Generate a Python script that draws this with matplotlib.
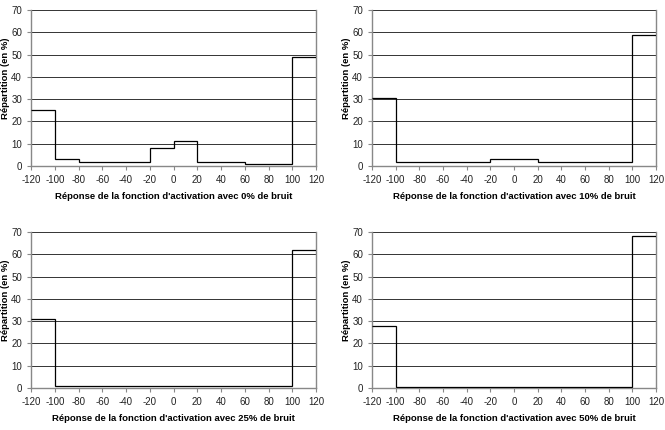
import numpy as np
import matplotlib.pyplot as plt

plt.rcParams['font.family'] = ['Liberation Sans', 'DejaVu Sans']
plt.rcParams['axes.unicode_minus'] = False

# bin edges of the activation response (width 20)
edges = np.arange(-120, 121, 20)

# distribution (%) per bin, one list per noise level
rep_0 = [25, 3, 2, 2, 2, 8, 11, 2, 2, 1, 1, 49]
rep_10 = [30.5, 2, 2, 2, 2, 3, 3, 2, 2, 2, 2, 59]
rep_25 = [31, 0.8, 0.8, 0.8, 0.8, 0.8, 0.8, 0.8, 0.8, 0.8, 0.8, 62]
rep_50 = [28, 0.5, 0.5, 0.5, 0.5, 0.5, 0.5, 0.5, 0.5, 0.5, 0.5, 68]

noise_labels = ["0%", "10%", "25%", "50%"]
series = [rep_0, rep_10, rep_25, rep_50]

fig = plt.figure(figsize=(6.65, 4.3), dpi=100)

# axes boxes in pixels: left, right, top, bottom
boxes = [(31, 316, 10, 166), (372, 656, 10, 166),
         (31, 316, 232, 388), (372, 656, 232, 388)]

W, H = 665, 430
for (l, r, t, b), vals, lab in zip(boxes, series, noise_labels):
    ax = fig.add_axes([l / W, 1 - b / H, (r - l) / W, (b - t) / H])
    ax.set_xlim(-120, 120)
    ax.set_ylim(0, 70)
    for yv in range(10, 71, 10):
        ax.axhline(yv, color='#333333', lw=0.7, zorder=1)
    ax.stairs(vals, edges, baseline=None, color='black', lw=0.9, zorder=3)
    ax.set_xticks(edges)
    ax.set_yticks(range(0, 71, 10))
    ax.tick_params(labelsize=7, length=3, width=0.8, color='#888888', pad=3.5,
                   labelcolor='#222222')
    for sp in ['left', 'bottom', 'right']:
        ax.spines[sp].set_color('#888888')
        ax.spines[sp].set_linewidth(1.0)
    ax.spines['top'].set_visible(False)
    ax.set_ylabel("Répartition (en %)", fontsize=6.8, fontweight='bold')
    ax.yaxis.set_label_coords(-21 / (r - l), 0.565)
    ax.set_xlabel("Réponse de la fonction d'activation avec %s de bruit" % lab,
                  fontsize=6.8, fontweight='bold', labelpad=5)

fig.savefig("out.png", dpi=100)
